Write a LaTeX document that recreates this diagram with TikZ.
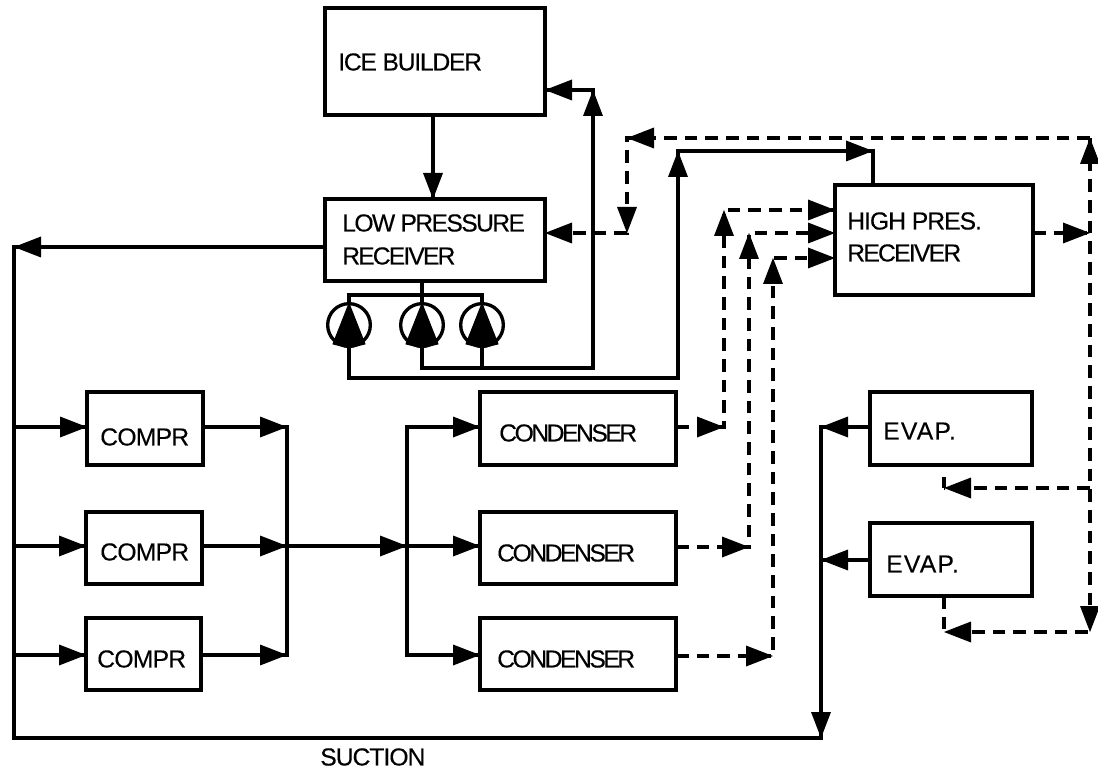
\documentclass[tikz,border=0pt]{standalone}
\usepackage{fontspec}
\setmainfont{Liberation Sans}
\tikzset{
  x=0.75pt,y=-0.75pt,
  boxn/.style={draw=black,line width=2.5pt,fill=white,inner sep=0pt,outer sep=0pt,anchor=north west},
  lbl/.style={font=\fontsize{18.5}{24}\selectfont,anchor=west,inner sep=0pt,align=left},
  flow/.style={draw=black,line width=2.3pt,line join=miter},
  dash flow/.style={flow,dash pattern=on 9.5pt off 6pt},
  pumpc/.style={circle,draw=black,line width=2.5pt,minimum size=32pt,inner sep=0pt,outer sep=0pt},
}
\newcommand{\boxat}[5]{\node[boxn,minimum width=#3*0.75pt,minimum height=#4*0.75pt] (#5) at (#1,#2) {};}
\newcommand{\ls}[2]{{\addfontfeatures{LetterSpace=#1,FakeBold=0.3}#2}}
\newcommand{\tipR}[1]{\fill (#1) -- ++(-27,-10.5) -- ++(0,21) -- cycle;}
\newcommand{\tipL}[1]{\fill (#1) -- ++(27,-10.5) -- ++(0,21) -- cycle;}
\newcommand{\tipU}[1]{\fill (#1) -- ++(-10,26) -- ++(20,0) -- cycle;}
\newcommand{\tipD}[1]{\fill (#1) -- ++(-10,-26) -- ++(20,0) -- cycle;}
\begin{document}
\begin{tikzpicture}
\useasboundingbox (0,0) rectangle (1098,773);
\boxat{325}{8}{220}{107}{ice}
\boxat{325}{199}{220}{82}{low}
\boxat{835}{185}{198}{110}{high}
\boxat{87}{392}{116}{73}{c1}
\boxat{86}{512}{116}{72}{c2}
\boxat{86}{618}{115}{72}{c3}
\boxat{480}{392}{196}{73}{d1}
\boxat{480}{512}{196}{72}{d2}
\boxat{480}{618}{196}{72}{d3}
\boxat{870}{392}{162}{73}{e1}
\boxat{870}{523}{162}{73}{e2}
\node[lbl] (t1) at (338,62) {\ls{-5}{ICE BUILDER}};
\node[lbl] (t2) at (342,223) {\ls{-6.5}{LOW PRESSURE}};
\node[lbl] (t3) at (342,256) {\ls{-7.5}{RECEIVER}};
\node[lbl] (t4) at (847,221) {\ls{-4}{HIGH PRES.}};
\node[lbl] (t5) at (847,253) {\ls{-7}{RECEIVER}};
\node[lbl] (t6) at (100,437) {\ls{-3}{COMPR}};
\node[lbl] (t7) at (100,552) {\ls{-3}{COMPR}};
\node[lbl] (t8) at (97,659) {\ls{-3}{COMPR}};
\node[lbl] (t9) at (499,433) {\ls{-10}{CONDENSER}};
\node[lbl] (t10) at (497,553) {\ls{-10}{CONDENSER}};
\node[lbl] (t11) at (497,659) {\ls{-10}{CONDENSER}};
\node[lbl] (t12) at (883,431) {\ls{5}{EVAP.}};
\node[lbl] (t13) at (886,564) {\ls{5}{EVAP.}};
\node[lbl] (t14) at (320,757) {\ls{-4}{SUCTION}};
% junction coordinates
\coordinate (iceStem) at (433,0);
\coordinate (ma) at (349,295); \coordinate (mb) at (422,295); \coordinate (mc) at (482,295);
\coordinate (pb1) at (349,378); \coordinate (pb1r) at (678,378);
\coordinate (jHot) at (678,151); \coordinate (jHotR) at (873,151);
\coordinate (pb2) at (422,368); \coordinate (pb3) at (482,368); \coordinate (pb2r) at (593,368);
\coordinate (jIce) at (593,90);
\coordinate (jSuc) at (14,247); \coordinate (jSucB) at (14,738); \coordinate (jEvB) at (821,738);
\coordinate (jEv1) at (821,427); \coordinate (jEv2) at (821,560);
\coordinate (jC1) at (14,427); \coordinate (jC2) at (14,546); \coordinate (jC3) at (14,655);
\coordinate (jO1) at (287,427); \coordinate (jO2) at (287,546); \coordinate (jO3) at (287,655);
\coordinate (jD1) at (407,427); \coordinate (jD2) at (407,546); \coordinate (jD3) at (407,655);
\coordinate (jTR) at (1090,138); \coordinate (jTL) at (627,138); \coordinate (jLow) at (627,233);
\coordinate (jHi) at (1090,233); \coordinate (jBR) at (1090,632);
\coordinate (jEa) at (1090,488); \coordinate (jEaL) at (944,488); \coordinate (jEaS) at (944,477);
\coordinate (jEbL) at (944,632);
\coordinate (r1) at (724,427); \coordinate (r1t) at (724,210);
\coordinate (r2) at (749,547); \coordinate (r2t) at (749,233);
\coordinate (r3) at (773,656); \coordinate (r3t) at (773,258);
% pumps
\node[pumpc] (p1) at (349,325) {};
\node[pumpc] (p2) at (422,325) {};
\node[pumpc] (p3) at (482,325) {};
\foreach \n in {p1,p2,p3}{
  \fill ([yshift=17.2pt]\n.center) -- ([xshift=-12.5pt,yshift=-14.5pt]\n.center) -- ([yshift=-17.5pt]\n.center) -- ([xshift=12.5pt,yshift=-14.5pt]\n.center) -- cycle;
}
% solid lines
\draw[flow] (low.south -| mb) -- (mb);
\draw[flow] (p1.north) -- (ma) -- (mc) -- (p3.north);
\draw[flow] (mb) -- (p2.north);
\draw[flow] (ice.south -| iceStem) -- (low.north -| iceStem);
\draw[flow] (p1.south) -- (pb1) -- (pb1r) -- (jHot) -- (jHotR) -- (high.north -| jHotR);
\draw[flow] (p2.south) -- (pb2) -- (pb2r) -- (jIce) -- (ice.east |- jIce);
\draw[flow] (p3.south) -- (pb3);
\draw[flow] (low.west |- jSuc) -- (jSuc) -- (jSucB) -- (jEvB) -- (jEv1) -- (e1.west |- jEv1);
\draw[flow] (jEv2) -- (e2.west |- jEv2);
\draw[flow] (jC1) -- (c1.west |- jC1);
\draw[flow] (jC2) -- (c2.west |- jC2);
\draw[flow] (jC3) -- (c3.west |- jC3);
\draw[flow] (c1.east |- jO1) -- (jO1) -- (jO3) -- (c3.east |- jO3);
\draw[flow] (c2.east |- jO2) -- (d2.west |- jD2);
\draw[flow] (d1.west |- jD1) -- (jD1) -- (jD3) -- (d3.west |- jD3);
% dashed lines
\draw[dash flow] (jTR) -- (jTL) -- (jLow) -- (low.east |- jLow);
\draw[dash flow] (high.east |- jHi) -- (jHi);
\draw[dash flow] (jTR) -- (jBR) -- (jEbL);
\draw[dash flow] (jEa) -- (jEaL);
\draw[flow] (jEaL) -- (jEaS);
\draw[dash flow] (e2.south -| jEbL) -- (jEbL);
\draw[dash flow] (d1.east |- r1) -- (r1) -- (r1t) -- (high.west |- r1t);
\draw[dash flow] (d2.east |- r2) -- (r2) -- (r2t) -- (high.west |- r2t);
\draw[dash flow] (d3.east |- r3) -- (r3) -- (r3t) -- (high.west |- r3t);
% arrowheads
\tipD{low.north -| iceStem}
\tipL{ice.east |- jIce} \tipU{jIce}
\tipL{low.east |- jLow} \tipD{jLow}
\tipL{jTL}
\tipU{jHot} \tipR{jHotR}
\tipR{high.west |- r1t} \tipR{high.west |- r2t} \tipR{high.west |- r3t}
\tipU{r1t} \tipU{r2t} \tipU{r3t}
\tipR{jHi} \tipU{jTR} \tipD{jBR}
\tipL{jEaL} \tipL{jEbL}
\tipL{jSuc}
\tipR{c1.west |- jC1} \tipR{c2.west |- jC2} \tipR{c3.west |- jC3}
\tipR{jO1} \tipR{jO2} \tipR{jO3}
\tipR{jD2}
\tipR{d1.west |- jD1} \tipR{d2.west |- jD2} \tipR{d3.west |- jD3}
\tipR{r1} \tipR{r2} \tipR{r3}
\tipL{jEv1} \tipL{jEv2} \tipD{jEvB}
\end{tikzpicture}
\end{document}
